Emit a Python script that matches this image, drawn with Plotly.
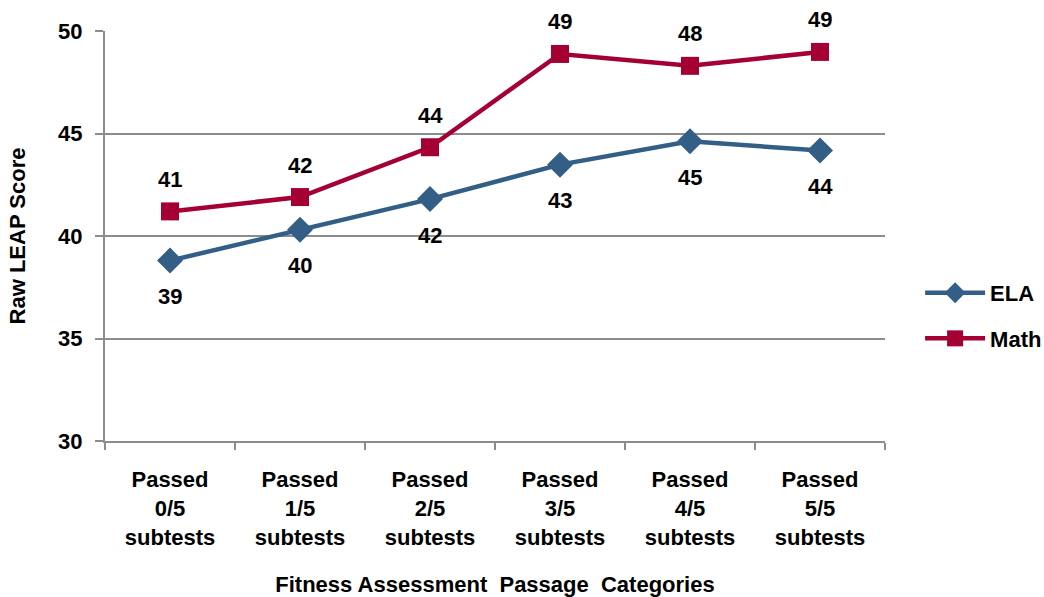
import plotly.graph_objects as go

categories = ["Passed<br>0/5<br>subtests", "Passed<br>1/5<br>subtests", "Passed<br>2/5<br>subtests",
              "Passed<br>3/5<br>subtests", "Passed<br>4/5<br>subtests", "Passed<br>5/5<br>subtests"]
ela = [38.8, 40.3, 41.8, 43.48, 44.62, 44.17]
math = [41.2, 41.9, 44.33, 48.88, 48.3, 48.98]
yticks = [30, 35, 40, 45, 50]

ELA_COLOR = "#335E85"
MATH_COLOR = "#A50034"
GRID = "#8C8C8C"
FAMILY = "Liberation Sans, Arial, sans-serif"


def bold(size):
    return dict(family=FAMILY, size=size, color="black", weight="bold")


fig = go.Figure()
fig.add_trace(go.Scatter(
    x=categories, y=ela, name="ELA", mode="lines+markers", legendgroup="ela",
    line=dict(color=ELA_COLOR, width=4.5),
    marker=dict(symbol="diamond", size=20, color=ELA_COLOR),
))
fig.add_trace(go.Scatter(
    x=categories, y=math, name="Math", mode="lines+markers", legendgroup="math",
    line=dict(color=MATH_COLOR, width=4.5),
    marker=dict(symbol="square", size=18, color=MATH_COLOR),
))

annotations = []
for c, v in zip(categories, ela):
    annotations.append(dict(x=c, y=v, text=f"{round(v)}", showarrow=False, yshift=-36,
                            font=bold(22)))
for c, v in zip(categories, math):
    annotations.append(dict(x=c, y=v, text=f"{round(v)}", showarrow=False, yshift=32,
                            font=bold(22)))

fig.update_layout(
    width=1044, height=597,
    margin=dict(l=105, r=159, t=31, b=156, autoexpand=False),
    paper_bgcolor="white", plot_bgcolor="white",
    font=bold(22),
    showlegend=True,
    legend=dict(x=1.045, y=0.305, xanchor="left", yanchor="middle",
                font=bold(22), tracegroupgap=14, itemwidth=60),
    annotations=annotations,
    xaxis=dict(
        type="category", range=[-0.5, 5.5], tickson="boundaries", automargin=False,
        ticks="outside", ticklen=7, tickcolor=GRID, tickwidth=2,
        showline=True, linecolor=GRID, linewidth=2, showgrid=False,
        tickfont=bold(22), ticklabelstandoff=18,
        title=dict(text="Fitness Assessment  Passage  Categories",
                   font=bold(22), standoff=28),
    ),
    yaxis=dict(
        range=[30, 50], tickvals=yticks, ticks="outside", ticklen=8, automargin=False,
        tickcolor=GRID, tickwidth=2,
        showgrid=True, gridcolor=GRID, gridwidth=2,
        showline=True, linecolor=GRID, linewidth=2, zeroline=False,
        tickfont=bold(22), ticklabelstandoff=8,
        title=dict(text="Raw LEAP Score", font=bold(22), standoff=26),
    ),
)

fig.write_html("out.html")
